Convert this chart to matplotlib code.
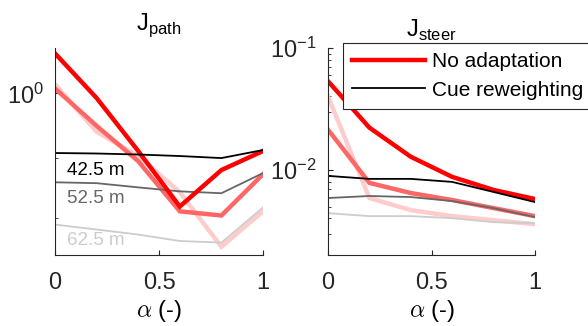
import numpy as np
import matplotlib
matplotlib.use("Agg")
import matplotlib.pyplot as plt
from matplotlib.lines import Line2D
from matplotlib.ticker import FixedLocator, LogLocator, NullFormatter

plt.rcParams['font.family'] = ['Liberation Sans', 'DejaVu Sans']
plt.rcParams['mathtext.fontset'] = 'custom'
plt.rcParams['mathtext.rm'] = 'Liberation Sans'

alpha = [0, 0.2, 0.4, 0.6, 0.8, 1.0]
distances = ['42.5 m', '52.5 m', '62.5 m']

# J_path, no adaptation (per distance)
path_noadapt = [
    [1.25, 0.975, 0.726, 0.533, 0.653, 0.726],
    [1.028, 0.835, 0.686, 0.519, 0.507, 0.638],
    [1.052, 0.808, 0.706, 0.577, 0.426, 0.519],
]
# J_path, cue reweighting
path_reweight = [
    [0.718, 0.716, 0.712, 0.706, 0.698, 0.730],
    [0.610, 0.607, 0.593, 0.580, 0.574, 0.642],
    [0.482, 0.469, 0.456, 0.440, 0.436, 0.530],
]
# J_steer, no adaptation
steer_noadapt = [
    [0.0534, 0.0222, 0.0128, 0.00875, 0.00684, 0.00576],
    [0.0214, 0.00781, 0.00645, 0.00565, 0.00485, 0.00417],
    [0.0401, 0.00587, 0.00467, 0.00417, 0.00386, 0.00358],
]
# J_steer, cue reweighting
steer_reweight = [
    [0.00892, 0.00843, 0.00843, 0.00796, 0.00658, 0.00544],
    [0.00587, 0.00610, 0.00598, 0.00554, 0.00485, 0.00409],
    [0.00441, 0.00417, 0.00417, 0.00401, 0.00372, 0.00365],
]

red_colors = [(1, 0, 0), (1, 0.4, 0.4), (1, 0.8, 0.8)]
gray_colors = [(0, 0, 0), (0.4, 0.4, 0.4), (0.8, 0.8, 0.8)]
axis_color = (0.15, 0.15, 0.15)

fig = plt.figure(figsize=(5.88, 3.26), dpi=100)
ax1 = fig.add_axes([55/588, 1-255/326, 208/588, 207/326])
ax2 = fig.add_axes([328/588, 1-255/326, 207/588, 207/326])

for ax, noad, rew in [(ax1, path_noadapt, path_reweight), (ax2, steer_noadapt, steer_reweight)]:
    for k in [2, 1, 0]:
        ax.plot(alpha, noad[k], color=red_colors[k], lw=3.2, solid_joinstyle='miter')
        ax.plot(alpha, rew[k], color=gray_colors[k], lw=1.3)
    ax.set_yscale('log')
    ax.set_xlim(0, 1)
    ax.set_xticks([0, 0.5, 1])
    ax.set_xticklabels(['0', '0.5', '1'])
    ax.spines['top'].set_visible(False)
    ax.spines['right'].set_visible(False)
    for s in ['left', 'bottom']:
        ax.spines[s].set_color(axis_color)
        ax.spines[s].set_linewidth(0.8)
    ax.tick_params(which='both', direction='in', colors=axis_color, labelcolor=(0.15, 0.15, 0.15))
    ax.tick_params(axis='x', which='major', length=3.5, pad=12, labelsize=17)
    ax.tick_params(axis='y', which='major', length=3.5, pad=8, labelsize=17)
    ax.tick_params(axis='y', which='minor', length=2)
    xl = ax.set_xlabel(r'$\alpha$ (-)', fontsize=17, labelpad=3)
    xl.set_math_fontfamily('cm')

ax1.set_ylim(0.407, 1.288)
ax1.yaxis.set_major_locator(FixedLocator([1.0]))
ax1.yaxis.set_minor_locator(FixedLocator([0.7, 0.5]))
ax1.yaxis.set_minor_formatter(NullFormatter())
ax1.set_title(r'J$_{\mathrm{path}}$', fontsize=17, y=1.087, pad=0)

ax2.set_ylim(0.002, 0.1)
ax2.yaxis.set_major_locator(FixedLocator([0.01, 0.1]))
ax2.yaxis.set_minor_locator(LogLocator(base=10, subs=np.arange(2, 10), numticks=20))
ax2.yaxis.set_minor_formatter(NullFormatter())
ax2.set_title(r'J$_{\mathrm{steer}}$', fontsize=17, y=1.053, pad=0)

label_pos = [0.41, 0.275, 0.068]
for k, d in enumerate(distances):
    ax1.text(0.058, label_pos[k], d, transform=ax1.transAxes, color=gray_colors[k],
             fontsize=13.5, va='center', ha='left')

handles = [Line2D([0], [0], color=red_colors[0], lw=3.2),
           Line2D([0], [0], color=gray_colors[0], lw=1.3)]
leg = ax2.legend(handles, ['No adaptation', 'Cue reweighting'], loc='upper left',
                 bbox_to_anchor=(343/588, 1-43/326), bbox_transform=fig.transFigure,
                 fontsize=15, frameon=True, fancybox=False, framealpha=1,
                 handlelength=3.5, handletextpad=0.3, borderpad=0.45,
                 labelspacing=0.45, borderaxespad=0)
leg.get_frame().set_edgecolor(axis_color)
leg.get_frame().set_linewidth(0.8)

fig.savefig('out.png', dpi=100)
